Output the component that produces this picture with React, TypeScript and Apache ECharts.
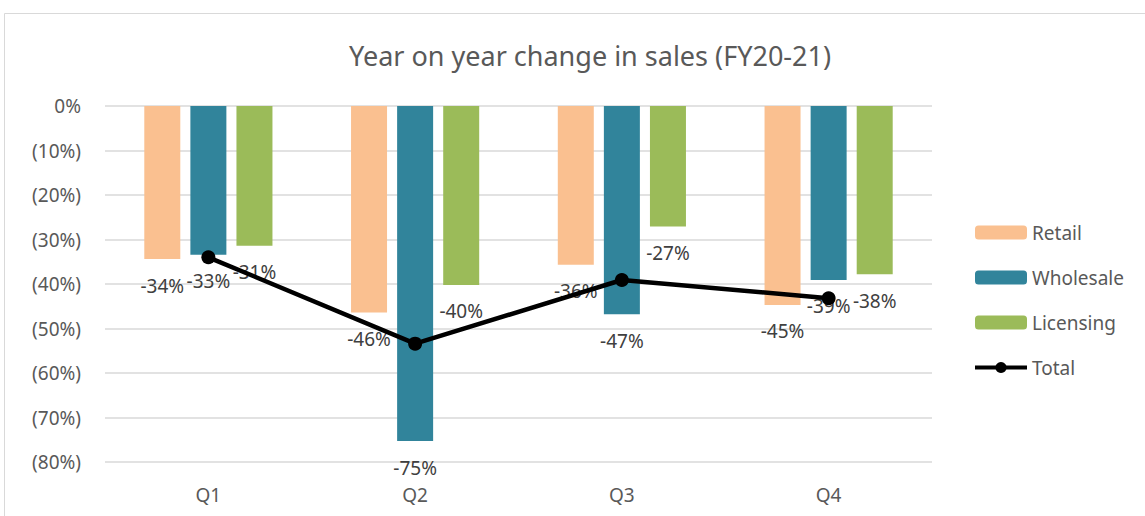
import React, { useEffect, useRef } from "react";
import * as echarts from "echarts";

const categories = ["Q1", "Q2", "Q3", "Q4"];
const retail = [-34.4, -46.4, -35.7, -44.7];
const wholesale = [-33.4, -75.3, -46.8, -39.1];
const licensing = [-31.4, -40.2, -27.1, -37.8];
const total = [-34.0, -53.4, -39.1, -43.2];
const yTicks = [0, -10, -20, -30, -40, -50, -60, -70, -80];

const FONT = "'Noto Sans', 'Open Sans', sans-serif";

export default function App() {
  const ref = useRef<HTMLDivElement>(null);
  useEffect(() => {
    if (!ref.current) return;
    const chart = echarts.init(ref.current, null, { renderer: "svg" });
    const barLabel = {
      show: true,
      position: "bottom" as const,
      distance: 17,
      color: "#404040",
      fontSize: 19,
      fontFamily: FONT,
      formatter: (p: any) => Math.round(p.value) + "%",
    };
    const mkBar = (name: string, data: number[], color: string) => ({
      name,
      type: "bar",
      data,
      barWidth: 36,
      barGap: "28%",
      itemStyle: { color },
      label: barLabel,
    });
    chart.setOption({
      animation: false,
      backgroundColor: "#ffffff",
      title: {
        text: "Year on year change in sales (FY20-21)",
        left: 585,
        textAlign: "center",
        top: 37,
        textStyle: { color: "#595959", fontSize: 27, fontWeight: "normal", fontFamily: FONT },
      },
      graphic: [
        {
          type: "rect",
          shape: { x: 4.5, y: 13.5, width: 1200, height: 600 },
          style: { fill: "none", stroke: "#d9d9d9", lineWidth: 1 },
          silent: true,
        },
      ],
      legend: {
        orient: "vertical",
        left: 968,
        top: 218,
        itemWidth: 52,
        itemHeight: 14,
        itemGap: 26,
        textStyle: { color: "#595959", fontSize: 19, fontFamily: FONT },
        data: [
          "Retail",
          "Wholesale",
          "Licensing",
          { name: "Total", lineStyle: { width: 4 } },
        ],
      },
      grid: { left: 105, right: 213, top: 106, bottom: 54 },
      xAxis: {
        type: "category",
        data: categories,
        axisLine: { show: false, onZero: false },
        axisTick: { show: false },
        axisLabel: { color: "#595959", fontSize: 19, fontFamily: FONT, margin: 23 },
      },
      yAxis: {
        type: "value",
        min: -80,
        max: 0,
        interval: 10,
        axisLine: { show: false },
        axisTick: { show: false },
        axisLabel: {
          color: "#595959",
          fontSize: 19,
          fontFamily: FONT,
          margin: 24,
          formatter: (v: number) => (yTicks.includes(v) ? (v === 0 ? "0%" : "(" + Math.abs(v) + "%)") : ""),
        },
        splitLine: { lineStyle: { color: "#d9d9d9", width: 1.5 } },
      },
      series: [
        mkBar("Retail", retail, "#FAC090"),
        mkBar("Wholesale", wholesale, "#31849B"),
        mkBar("Licensing", licensing, "#9BBB59"),
        {
          name: "Total",
          type: "line",
          data: total,
          symbol: "circle",
          symbolSize: 14,
          lineStyle: { color: "#000000", width: 4.5 },
          itemStyle: { color: "#000000" },
          z: 5,
        },
      ],
    });
    return () => chart.dispose();
  }, []);
  return (
    <div
      ref={ref}
      style={{ position: "absolute", left: 0, top: 0, width: 1145, height: 516 }}
    />
  );
}
